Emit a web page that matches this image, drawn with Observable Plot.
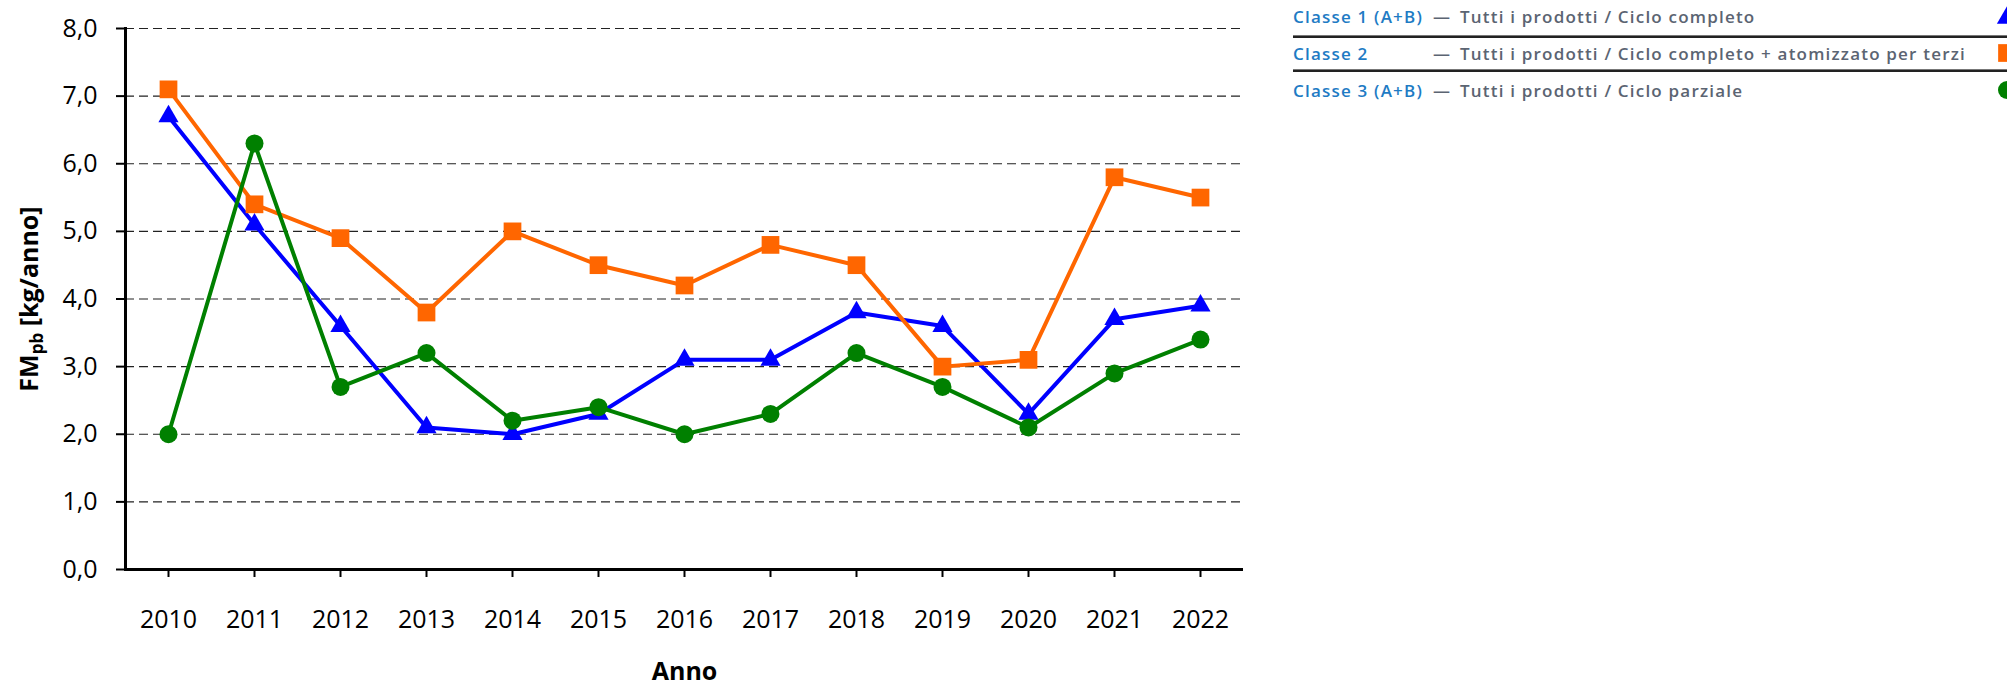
<!DOCTYPE html>
<html><head><meta charset="utf-8">
<script src="https://cdn.jsdelivr.net/npm/d3@7"></script>
<script src="https://cdn.jsdelivr.net/npm/@observablehq/plot@0.6"></script>
<style>
body{margin:0;background:#fff;}
#wrap{position:relative;width:2007px;height:685px;overflow:hidden;font-family:"Open Sans",sans-serif;}
.leg{position:absolute;font-size:17px;font-weight:600;white-space:nowrap;letter-spacing:1.2px;line-height:20px;}
.sep{position:absolute;left:1293px;width:714px;height:0;border-top:1px solid #777;border-bottom:2px solid #222;}
</style></head><body><div id="wrap"></div>
<script>
const years = [2010, 2011, 2012, 2013, 2014, 2015, 2016, 2017, 2018, 2019, 2020, 2021, 2022];
const classe1 = [6.7, 5.1, 3.6, 2.1, 2.0, 2.3, 3.1, 3.1, 3.8, 3.6, 2.3, 3.7, 3.9];
const classe2 = [7.1, 5.4, 4.9, 3.8, 5.0, 4.5, 4.2, 4.8, 4.5, 3.0, 3.1, 5.8, 5.5];
const classe3 = [2.0, 6.3, 2.7, 3.2, 2.2, 2.4, 2.0, 2.3, 3.2, 2.7, 2.1, 2.9, 3.4];
const yTicks = [0, 1, 2, 3, 4, 5, 6, 7, 8];
const seriesNames = ["Classe 1 (A+B)", "Classe 2", "Classe 3 (A+B)"];
const seriesDesc = ["Tutti i prodotti / Ciclo completo", "Tutti i prodotti / Ciclo completo + atomizzato per terzi", "Tutti i prodotti / Ciclo parziale"];
const seriesColors = ["#0000FF", "#FF6600", "#008000"];
const seriesSymbols = ["triangle", "square", "circle"];
const seriesR = [7.5, 10, 9];
const xTitle = "Anno";
const yTitleMain = "FM", yTitleSub = "pb", yTitleRest = " [kg/anno]";

const allSeries = [classe1, classe2, classe3];
const seriesData = allSeries.map((vals, k) => years.map((yr, i) => ({year: String(yr), value: vals[i], series: seriesNames[k]})));

const marks = [
  Plot.gridY(yTicks.filter(d => d > 0), {stroke: "#222", strokeOpacity: 1, strokeDasharray: "9,5", strokeWidth: 1.2}),
  Plot.axisY(yTicks, {tickSize: 9, tickPadding: 19, strokeWidth: 2, fontSize: 25, tickFormat: d => d.toFixed(1).replace(".", ","), label: null}),
  Plot.axisX({tickSize: 8, tickPadding: 33, strokeWidth: 2, fontSize: 25, label: null}),
  Plot.ruleY([0], {stroke: "#000", strokeWidth: 3}),
  Plot.frame({anchor: "left", stroke: "#000", strokeWidth: 3}),
  Plot.text([xTitle], {frameAnchor: "bottom", dy: 110, lineAnchor: "bottom", fontSize: 25, fontWeight: "bold", fill: "#000"})
];
seriesData.forEach((d, k) => {
  marks.push(Plot.line(d, {x: "year", y: "value", stroke: seriesColors[k], strokeWidth: 4}));
});
seriesData.forEach((d, k) => {
  marks.push(Plot.dot(d, {x: "year", y: "value", symbol: () => seriesSymbols[k], fill: seriesColors[k], stroke: "none", r: seriesR[k]}));
});

const chart = Plot.plot({
  width: 2007, height: 685,
  marginLeft: 125, marginRight: 764, marginTop: 28, marginBottom: 116,
  style: {fontFamily: "'Open Sans', sans-serif", color: "#000", background: "#fff", overflow: "visible"},
  x: {type: "point", domain: years.map(String), padding: 0.5},
  y: {domain: [0, 8]},
  symbol: {type: "identity"},
  marks
});
const wrap = document.getElementById("wrap");
wrap.appendChild(chart);

// y title with subscript
const t = d3.select(chart).append("text")
  .attr("transform", "translate(38,299) rotate(-90)")
  .attr("text-anchor", "middle")
  .attr("font-family", "'Open Sans', sans-serif")
  .attr("font-weight", "bold")
  .attr("font-size", 25)
  .attr("fill", "#000");
t.append("tspan").text(yTitleMain);
t.append("tspan").attr("font-size", 17).attr("dy", 5).text(yTitleSub);
t.append("tspan").attr("dy", -5).text(yTitleRest);

// legend
const rowsY = [18, 55, 92];
seriesNames.forEach((name, k) => {
  const a = document.createElement("div");
  a.className = "leg"; a.style.left = "1293px"; a.style.top = (rowsY[k] - 11) + "px"; a.style.color = "#1E7BC4";
  a.textContent = name; wrap.appendChild(a);
  const dsh = document.createElement("div");
  dsh.className = "leg"; dsh.style.left = "1433px"; dsh.style.top = (rowsY[k] - 11) + "px"; dsh.style.color = "#5B6472";
  dsh.textContent = "\u2014"; wrap.appendChild(dsh);
  const b = document.createElement("div");
  b.className = "leg"; b.style.left = "1460px"; b.style.top = (rowsY[k] - 11) + "px"; b.style.color = "#5B6472";
  b.textContent = seriesDesc[k]; wrap.appendChild(b);
});
[37, 71].forEach(y => {
  const s = document.createElement("div"); s.className = "sep"; s.style.top = (y - 2) + "px"; wrap.appendChild(s);
});
const ls = d3.select(wrap).append("svg").style("position", "absolute").style("left", "1990px").style("top", "0px")
  .attr("width", 17).attr("height", 110);
seriesSymbols.forEach((s, k) => {
  const sym = {triangle: d3.symbolTriangle, square: d3.symbolSquare, circle: d3.symbolCircle}[s];
  ls.append("path").attr("transform", `translate(17,${[18, 53, 90][k]})`)
    .attr("d", d3.symbol(sym, Math.PI * seriesR[k] * seriesR[k])()).attr("fill", seriesColors[k]);
});
</script></body></html>
